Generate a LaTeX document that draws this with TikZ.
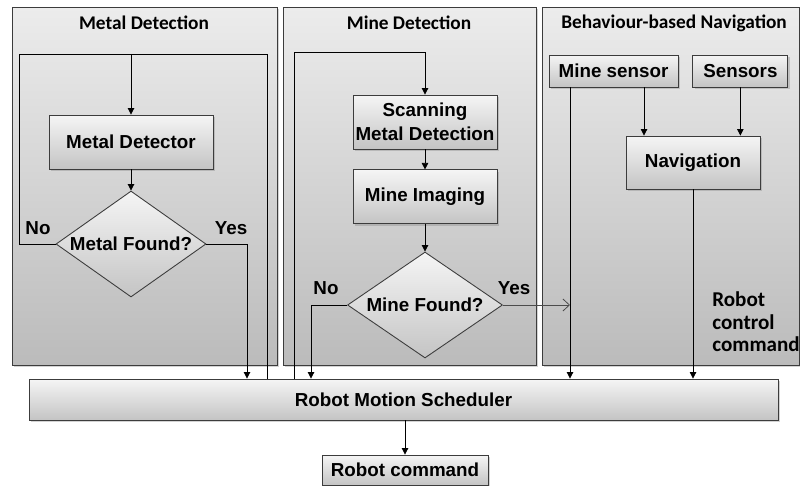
\documentclass[tikz,border=0pt]{standalone}
\usepackage{fontspec}
\setmainfont{Liberation Sans}
\newfontfamily\titlefont{Carlito}
\usepackage{tikz}
\usetikzlibrary{shapes.geometric, arrows.meta, positioning, shadows}
\definecolor{PanelTop}{HTML}{ECECEC}
\definecolor{PanelBottom}{HTML}{BBBBBB}
\definecolor{BoxTop}{HTML}{F5F5F5}
\definecolor{BoxBottom}{HTML}{C4C4C4}
\definecolor{EdgeGray}{HTML}{3C3C3C}
\tikzset{
  % Box styles
  panelbox/.style={rectangle, draw=EdgeGray, top color=PanelTop, bottom color=PanelBottom, line width=0.5pt, drop shadow={shadow xshift=1pt, shadow yshift=-1pt, opacity=0.35}},
  flowbox/.style={rectangle, draw=EdgeGray, top color=BoxTop, bottom color=BoxBottom, line width=0.5pt, inner sep=1pt, align=center, font=\bfseries\fontsize{10.7}{13.5}\selectfont, drop shadow={shadow xshift=1pt, shadow yshift=-1pt, opacity=0.35}},
  decisionbox/.style={diamond, draw=EdgeGray, top color=BoxTop, bottom color=BoxBottom, line width=0.5pt, inner sep=0pt, aspect=1.42, font=\bfseries\fontsize{10.7}{12}\selectfont},
  % Text styles
  titletext/.style={font=\titlefont\bfseries\fontsize{11}{13}\selectfont},
  labeltext/.style={font=\bfseries\fontsize{10.7}{12}\selectfont},
  % Arrow styles
  plainline/.style={line width=0.45pt, black},
  arrow/.style={-{Triangle[length=1.3mm, width=1.3mm]}, line width=0.45pt, black},
  yesarrow/.style={-{Straight Barb[length=1.3mm, width=2.4mm]}, line width=0.45pt, gray!60!black}
}
\begin{document}
\begin{tikzpicture}[x=0.02cm, y=-0.02cm]
  \useasboundingbox (0,0) rectangle (800,486);

  % Panels
  \node[panelbox, minimum width=5.3cm, minimum height=7.16cm] (metalpanel) at (144.5,186) {};
  \node[panelbox, minimum width=5.06cm, minimum height=7.16cm] (minepanel) at (409.5,186) {};
  \node[panelbox, minimum width=5.14cm, minimum height=7.16cm] (navpanel) at (670.5,186) {};
  \node[titletext] (metaltitle) at (144,23) {Metal Detection};
  \node[titletext] (minetitle) at (409,23) {Mine Detection};
  \node[titletext] (navtitle) at (674,23) {Behaviour-based Navigation};

  % Metal detection
  \node[flowbox, minimum width=3.28cm, minimum height=1.08cm] (metaldet) at (131,142) {Metal Detector};
  \node[decisionbox, minimum width=3cm, minimum height=2.12cm] (metalfound) at (131,244) {Metal Found?};
  \node[labeltext] (metalno) at (38,228) {No};
  \node[labeltext] (metalyes) at (231,228) {Yes};

  % Mine detection
  \node[flowbox, minimum width=2.88cm, minimum height=1.08cm] (scan) at (425,122) {Scanning\\Metal Detection};
  \node[flowbox, minimum width=2.88cm, minimum height=1.08cm, below=0.4cm of scan] (imaging) {Mine Imaging};
  \node[decisionbox, minimum width=3.1cm, minimum height=2.12cm] (minefound) at (425,305) {Mine Found?};
  \node[labeltext] (mineno) at (326,288) {No};
  \node[labeltext] (mineyes) at (514,288) {Yes};

  % Navigation
  \node[flowbox, minimum width=2.58cm, minimum height=0.64cm] (minesensor) at (613.5,71) {Mine sensor};
  \node[flowbox, minimum width=1.9cm, minimum height=0.64cm, right=0.28cm of minesensor] (sensors) {Sensors};
  \node[flowbox, minimum width=2.68cm, minimum height=1.06cm] (nav) at (693,162.5) {Navigation};
  \node[titletext, font=\titlefont\bfseries\fontsize{12}{12.8}\selectfont, align=left, anchor=west, inner sep=0pt] (ctrlcmd) at (712,322) {Robot\\control\\command};

  % Scheduler
  \node[flowbox, minimum width=14.98cm, minimum height=0.82cm] (sched) at (403.5,399.5) {Robot Motion Scheduler};
  \node[flowbox, minimum width=3.32cm, minimum height=0.6cm] (robotcmd) at (405,470) {Robot command};

  % Free ends
  \coordinate (metalloop) at (267,54);
  \coordinate (metalleft) at (19,54);
  \coordinate (metalout) at (247,0);
  \coordinate (mineloop) at (294,52);
  \coordinate (mineout) at (311,0);
  \coordinate (sensorline) at (570,0);
  \coordinate (navin) at (644,0);

  % Metal detection connectors
  \draw[plainline] (sched.north -| metalloop) -- (metalloop) -- (metalleft) |- (metalfound.west);
  \draw[arrow] (metaldet.north |- metalloop) -- (metaldet.north);
  \draw[arrow] (metaldet.south) -- (metalfound.north);
  \draw[arrow] (metalfound.east) -| (sched.north -| metalout);

  % Mine detection connectors
  \draw[arrow] (sched.north -| mineloop) -- (mineloop) -| (scan.north);
  \draw[arrow] (scan.south) -- (imaging.north);
  \draw[arrow] (imaging.south) -- (minefound.north);
  \draw[arrow] (minefound.west) -| (sched.north -| mineout);
  \draw[yesarrow] (minefound.east) -- (minefound.east -| sensorline);

  % Navigation connectors
  \draw[arrow] (minesensor.south -| sensorline) -- (sched.north -| sensorline);
  \draw[arrow] (minesensor.south -| navin) -- (nav.north -| navin);
  \draw[arrow] (sensors.south) -- (sensors.south |- nav.north);
  \draw[arrow] (nav.south) -- (nav.south |- sched.north);
  \draw[arrow] (sched.south -| robotcmd.north) -- (robotcmd.north);
\end{tikzpicture}
\end{document}
